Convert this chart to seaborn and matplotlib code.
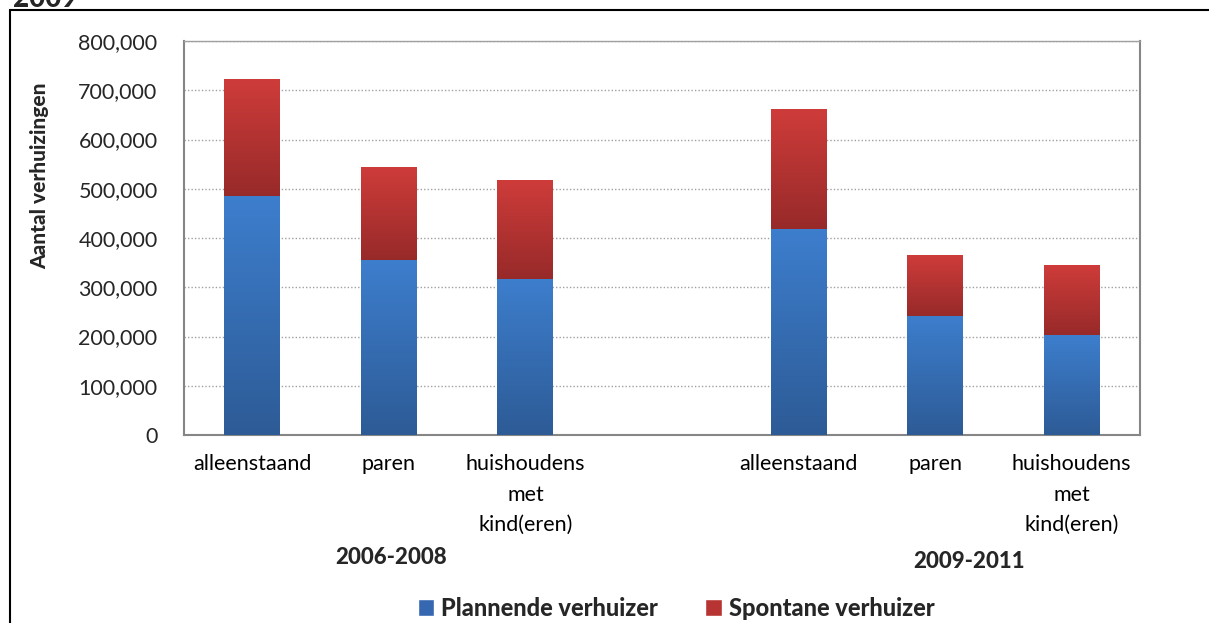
import numpy as np
import pandas as pd
import matplotlib
matplotlib.use("Agg")
import matplotlib.pyplot as plt
from matplotlib.patches import Patch, Rectangle
from matplotlib.colors import LinearSegmentedColormap
import seaborn as sns

# data
slots = ["a1", "p1", "h1", "gap", "a2", "p2", "h2"]
tick_labels = ["alleenstaand", "paren", "huishoudens\nmet\nkind(eren)", "",
               "alleenstaand", "paren", "huishoudens\nmet\nkind(eren)"]
plannend = [485000, 355000, 317000, np.nan, 418000, 242000, 203000]
spontaan = [236000, 187000, 201000, np.nan, 242000, 123000, 141000]
groups = ["2006-2008", "2009-2011"]
series = ["Plannende verhuizer", "Spontane verhuizer"]

df = pd.DataFrame({"slot": slots, "plannend": plannend, "spontaan": spontaan})
df["totaal"] = df["plannend"] + df["spontaan"]

sns.set_style("white")
plt.rcParams["font.family"] = ["Lato", "DejaVu Sans"]
BOLD = 900

W, H = 1209, 623
fig = plt.figure(figsize=(W / 100, H / 100), dpi=100)
ax = fig.add_axes([184 / W, 1 - 435 / H, (1140 - 184) / W, (435 - 41) / H])

bw = 0.41
sns.barplot(data=df, x="slot", y="totaal", order=slots, color="#b83432",
            width=bw, ax=ax, saturation=1, linewidth=0, zorder=2)
sns.barplot(data=df, x="slot", y="plannend", order=slots, color="#3568b0",
            width=bw, ax=ax, saturation=1, linewidth=0, zorder=3)

blue_cm = LinearSegmentedColormap.from_list("b", ["#2d5b96", "#3d7ecd"])
red_cm = LinearSegmentedColormap.from_list("r", ["#972a29", "#ce3c3a"])
grad = np.linspace(0, 1, 256).reshape(-1, 1)

# paint gradients inside each bar
for i, row in df.iterrows():
    if np.isnan(row["plannend"]):
        continue
    x0, x1 = i - bw / 2, i + bw / 2
    ax.imshow(grad, cmap=blue_cm, origin="lower", aspect="auto",
              extent=(x0, x1, 0, row["plannend"]), zorder=4)
    ax.imshow(grad, cmap=red_cm, origin="lower", aspect="auto",
              extent=(x0, x1, row["plannend"], row["totaal"]), zorder=4)

ax.set_xlim(-0.5, 6.5)
ax.set_ylim(0, 800000)
ax.set_yticks(np.arange(0, 800001, 100000))
ax.yaxis.set_major_formatter(matplotlib.ticker.FuncFormatter(lambda v, p: f"{int(v):,}"))
ax.set_xticks(range(len(slots)))
ax.set_xticklabels(tick_labels, linespacing=1.65)
ax.set_xticks(np.arange(-0.5, 7, 1), minor=True)
ax.tick_params(axis="x", which="major", length=0, pad=14, labelsize=15.5, colors="black")
ax.tick_params(axis="x", which="minor", length=7, width=1.2, color="#868686", direction="out")
ax.tick_params(axis="y", length=7, width=1.2, color="#868686", direction="out",
               labelsize=15.5, pad=12)
ax.yaxis.grid(True, linestyle=(0, (1, 1.5)), color="#a0a0a0", linewidth=1)
ax.set_axisbelow(True)
ax.set_xlabel("")
ax.set_ylabel("")
for s in ["left", "bottom", "right"]:
    ax.spines[s].set_color("#868686")
    ax.spines[s].set_linewidth(1.5)
ax.spines["top"].set_color("#a0a0a0")
ax.spines["top"].set_linewidth(1)

fig.text(40 / W, 1 - 176 / H, "Aantal verhuizingen", rotation=90, ha="center",
         va="center", fontsize=15, fontweight=BOLD)
fig.text(391 / W, 1 - 558 / H, groups[0], ha="center", va="center",
         fontsize=16, fontweight=BOLD)
fig.text(969 / W, 1 - 562 / H, groups[1], ha="center", va="center",
         fontsize=16, fontweight=BOLD)

handles = [Patch(facecolor="#3568b0", label=series[0]),
           Patch(facecolor="#b83432", label=series[1])]
fig.legend(handles=handles, loc="center", bbox_to_anchor=(676 / W, 1 - 608 / H),
           ncol=2, frameon=False, prop={"weight": BOLD, "size": 17},
           handlelength=0.7, handleheight=0.7, handletextpad=0.3, columnspacing=2.0)

# outer frame and the clipped title fragment
fig.patches.append(Rectangle((10 / W, -0.2), 1.5, 1.2 - 10 / H,
                             transform=fig.transFigure, fill=False,
                             edgecolor="black", linewidth=1.5))
fig.text(13 / W, 1 - 7 / H, "2009", ha="left", va="baseline", fontsize=20,
         fontweight=BOLD)

fig.savefig("out.png", dpi=100)
